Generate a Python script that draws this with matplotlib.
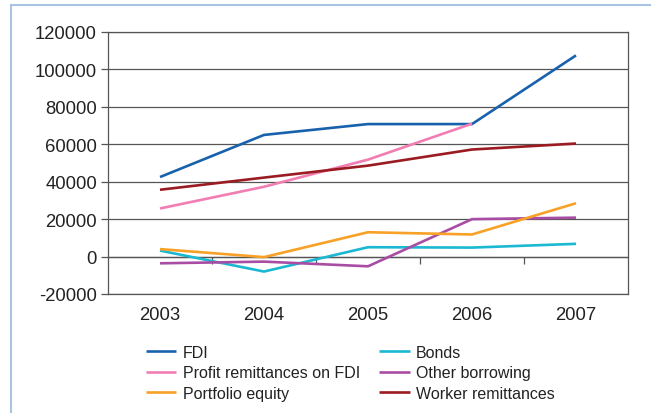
import matplotlib
matplotlib.use("Agg")
import matplotlib.pyplot as plt
from matplotlib.lines import Line2D
import numpy as np

years = ["2003", "2004", "2005", "2006", "2007"]
fdi = [42500, 65000, 70800, 70800, 107500]
bonds = [3200, -8000, 5000, 4800, 6800]
profit_remit = [25700, 37300, 51800, 71000, np.nan]
other_borrowing = [-3600, -2700, -5200, 20000, 20800]
portfolio_equity = [4000, -300, 13000, 11800, 28500]
worker_remit = [35700, 42200, 48600, 57200, 60400]

series = [
    ("FDI", fdi, "#1862ad"),
    ("Bonds", bonds, "#1bb8d2"),
    ("Profit remittances on FDI", profit_remit, "#f27db3"),
    ("Other borrowing", other_borrowing, "#a84da3"),
    ("Portfolio equity", portfolio_equity, "#f8a127"),
    ("Worker remittances", worker_remit, "#9a1b22"),
]
yticks = [-20000, 0, 20000, 40000, 60000, 80000, 100000, 120000]

plt.rcParams["font.family"] = ["Liberation Sans", "DejaVu Sans"]
fig = plt.figure(figsize=(6.51, 4.14), dpi=100)
ax = fig.add_axes([108/651, 1-295/414, (628-108)/651, (295-33)/414])

x = np.arange(len(years))
for name, vals, col in series:
    ax.plot(x, vals, color=col, lw=1.9, label=name, solid_capstyle="butt")

ax.set_xlim(-0.5, len(years)-0.5)
ax.set_ylim(-20000, 120000)
ax.set_yticks(yticks)
ax.set_yticklabels([str(v) for v in yticks], fontsize=13.3, color="#222222")
ax.yaxis.grid(True, color="#555555", lw=0.9)
ax.set_axisbelow(True)
ax.set_xticks(x)
ax.set_xticklabels(years, fontsize=13.3, color="#222222")
ax.tick_params(axis="x", length=0, pad=9)
ax.tick_params(axis="y", length=5, color="#555555", width=0.9, pad=3)
for s in ["left", "right", "top", "bottom"]:
    ax.spines[s].set_color("#555555")
    ax.spines[s].set_linewidth(0.9)

sec = ax.secondary_xaxis(20000/140000)
sec.set_xticks(x[:-1] + 0.5)
sec.set_xticklabels([])
sec.tick_params(axis="x", length=5, direction="out", color="#555555", width=0.9)
sec.spines["bottom"].set_color("#555555")
sec.spines["bottom"].set_linewidth(0.9)

handles, labels = ax.get_legend_handles_labels()
order = [0, 2, 4, 1, 3, 5]
leg = fig.legend([handles[i] for i in order], [labels[i] for i in order], ncol=2,
                 loc="upper left", bbox_to_anchor=(146/651, 1-346/414),
                 frameon=False, fontsize=11.5, handlelength=1.9, handletextpad=0.4,
                 columnspacing=1.2, labelspacing=0.34, borderaxespad=0, borderpad=0)
for t in leg.get_texts():
    t.set_color("#222222")

fig.add_artist(Line2D([11/651, 11/651], [0, 1-6/414], transform=fig.transFigure, color="#a9c3e3", lw=1.5))
fig.add_artist(Line2D([11/651, 1], [1-6/414, 1-6/414], transform=fig.transFigure, color="#a9c3e3", lw=1.5))

fig.savefig("out.png", dpi=100)
